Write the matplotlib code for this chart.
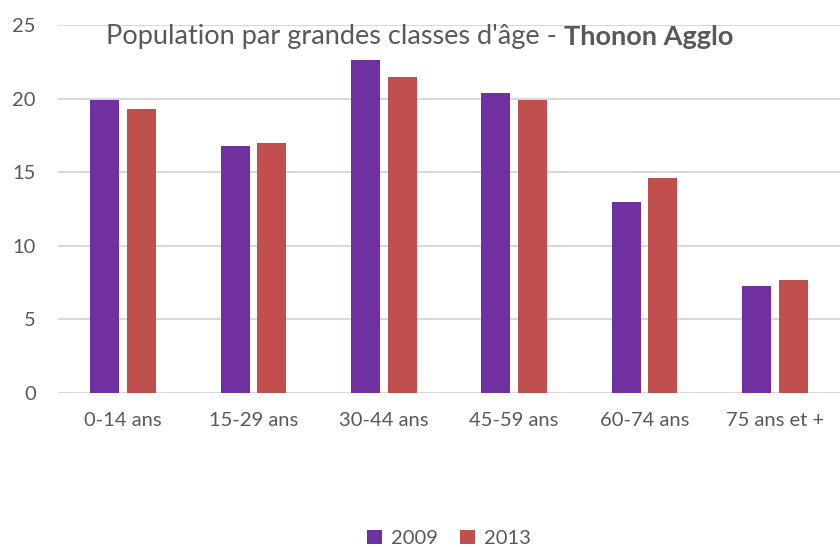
import matplotlib.pyplot as plt
import numpy as np

plt.rcParams['font.family'] = ['Lato', 'DejaVu Sans']

categories = ["0-14 ans", "15-29 ans", "30-44 ans", "45-59 ans", "60-74 ans", "75 ans et +"]
pop_2009 = [19.9, 16.8, 22.6, 20.4, 13.0, 7.3]
pop_2013 = [19.3, 17.0, 21.5, 19.9, 14.6, 7.7]

fig = plt.figure(figsize=(8.4, 5.47), dpi=100)
ax = fig.add_axes([58/840, 154/547, 782/840, 368/547])

x = np.arange(len(categories))
w = 0.223
off = 0.14
ax.bar(x - off, pop_2009, w, color="#7030A0", label="2009", zorder=3)
ax.bar(x + off, pop_2013, w, color="#C0504D", label="2013", zorder=3)

ax.set_xlim(-0.5, 5.5)
ax.set_ylim(0, 25)
ax.set_yticks([0, 5, 10, 15, 20, 25])
ax.grid(axis="y", color="#d9d9d9", linewidth=1.5, zorder=0)
for s in ax.spines.values():
    s.set_visible(False)
ax.tick_params(length=0, labelsize=14.5, colors="#595959")
ax.tick_params(axis="y", pad=16)
ax.tick_params(axis="x", pad=14)
ax.set_xticks(x)
ax.set_xticklabels(categories)

# titre en deux morceaux pour garder la même police
t1 = fig.text(0.5, 0.933, "Population par grandes classes d'âge - ",
              ha="right", va="center", fontsize=19.5, color="#595959")
t2 = fig.text(0.5, 0.933, "Thonon Agglo", ha="left", va="center",
              fontsize=19.5, color="#595959", fontweight="bold")
fig.canvas.draw()
r = fig.canvas.get_renderer()
w1 = t1.get_window_extent(r).width
w2 = t2.get_window_extent(r).width
cx = 420
t1.set_x((cx - (w1 + w2) / 2 + w1) / 840)
t2.set_x((cx - (w1 + w2) / 2 + w1) / 840)

ax.legend(loc="center", bbox_to_anchor=(0.5, -0.395), ncol=2, frameon=False,
          fontsize=14.5, labelcolor="#595959", handlelength=0.75, handleheight=0.75,
          handletextpad=0.45, columnspacing=1.1)

fig.savefig("out.png", dpi=100)
